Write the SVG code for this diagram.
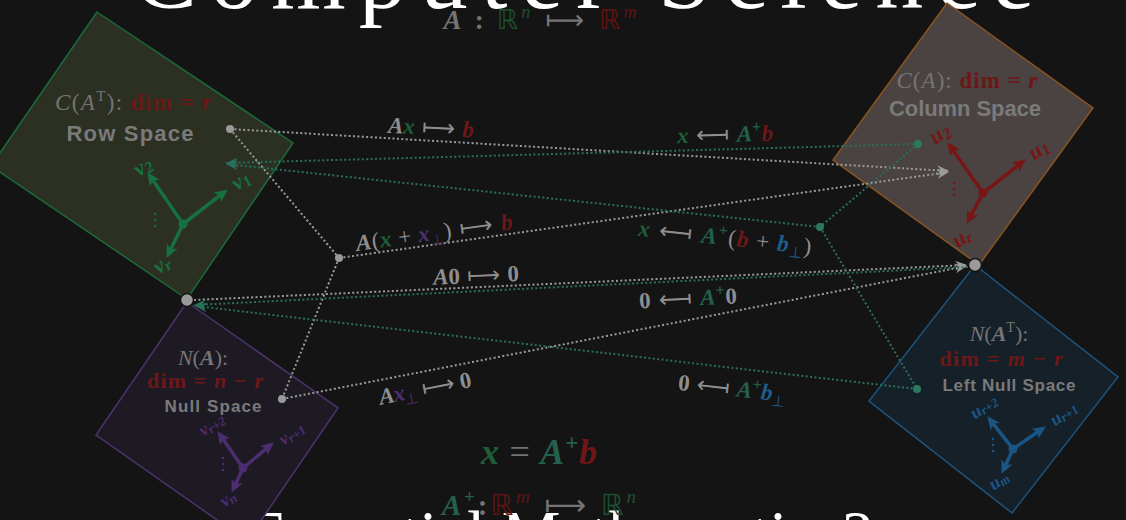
<svg xmlns="http://www.w3.org/2000/svg" width="1126" height="520" viewBox="0 0 1126 520">
<style>
.m{font-family:"Liberation Serif","DejaVu Serif",serif}
.sans{font-family:"Liberation Sans","DejaVu Sans",sans-serif;font-weight:bold;fill:#7a7a7a}
.it{font-style:italic}
.b{font-weight:bold}
.n{font-weight:normal}
.ar{font-family:"DejaVu Sans",sans-serif;font-weight:normal;font-style:normal}
.gy{fill:#747474}
.lg{fill:#8e8e8e}
.rd{fill:#6e1717}
.gx{fill:#1e5f3a}
.tl{fill:#25604d}
.bl{fill:#1f5d8a}
.pu{fill:#4c3070}
.gd{fill:none;stroke:#9b9b9b;stroke-width:2px;stroke-dasharray:2px 2.4px}
.td{fill:none;stroke:#2a6f5c;stroke-width:2px;stroke-dasharray:2px 2.4px}
.vg{stroke:#177040;stroke-width:3.5px;fill:none}
.vr{stroke:#7a1515;stroke-width:3.5px;fill:none}
.vp{stroke:#4c2d70;stroke-width:3.5px;fill:none}
.vb{stroke:#1b5584;stroke-width:3.5px;fill:none}
.vl{font-size:22px;font-weight:bold}
.vs{font-size:18px;font-weight:bold}
</style>
<defs>
<marker id="mg" markerUnits="userSpaceOnUse" markerWidth="13" markerHeight="10" refX="12" refY="5" orient="auto"><path d="M0,0 L12,5 L0,10 L4,5 Z" fill="#9b9b9b"/></marker>
<marker id="mt" markerUnits="userSpaceOnUse" markerWidth="13" markerHeight="10" refX="12" refY="5" orient="auto"><path d="M0,0 L12,5 L0,10 L4,5 Z" fill="#2a6f5c"/></marker>
<marker id="hg" markerUnits="userSpaceOnUse" markerWidth="15" markerHeight="12" refX="4" refY="6" orient="auto"><path d="M0,0 L13,6 L0,12 L3,6 Z" fill="#177040"/></marker>
<marker id="hr" markerUnits="userSpaceOnUse" markerWidth="15" markerHeight="12" refX="4" refY="6" orient="auto"><path d="M0,0 L13,6 L0,12 L3,6 Z" fill="#7a1515"/></marker>
<marker id="hp" markerUnits="userSpaceOnUse" markerWidth="15" markerHeight="12" refX="4" refY="6" orient="auto"><path d="M0,0 L13,6 L0,12 L3,6 Z" fill="#4c2d70"/></marker>
<marker id="hb" markerUnits="userSpaceOnUse" markerWidth="15" markerHeight="12" refX="4" refY="6" orient="auto"><path d="M0,0 L13,6 L0,12 L3,6 Z" fill="#1b5584"/></marker>
</defs>
<rect width="1126" height="520" fill="#141414"/>

<text id="title-top" class="m" x="133" y="8" font-size="96" letter-spacing="13" fill="#ffffff">Computer Science</text>
<text id="title-bottom" class="m" x="247" y="556" font-size="66" fill="#ffffff">Essential Mathematics?</text>

<text id="map-A" class="m b" x="540" y="29" font-size="27" text-anchor="middle" textLength="193"><tspan class="it gy">A</tspan><tspan class="gy"> : </tspan><tspan class="ar" fill="#1d4f31">ℝ</tspan><tspan class="it n" fill="#1d4f31" font-size="18" dy="-11">n</tspan><tspan class="ar gy" dy="11"> ⟼ </tspan><tspan class="ar" fill="#5e1414">ℝ</tspan><tspan class="it n" fill="#5e1414" font-size="18" dy="-11">m</tspan></text>

<g id="row-space">
<polygon points="97,12 293,143 187,299 -9,166" fill="#2b3022" stroke="#1c6b3c" stroke-width="1.5"/>
<text class="m" x="133" y="110" font-size="23" text-anchor="middle" textLength="156"><tspan class="it gy">C</tspan><tspan class="gy">(</tspan><tspan class="it gy">A</tspan><tspan class="gy" font-size="15" dy="-9">T</tspan><tspan class="gy" dy="9">):</tspan><tspan class="b rd"> dim = </tspan><tspan class="b it rd">r</tspan></text>
<text class="sans" x="130" y="141" font-size="22" text-anchor="middle" textLength="127">Row Space</text>
<line class="vg" x1="183" y1="224" x2="220.7" y2="194.9" marker-end="url(#hg)"/>
<line class="vg" x1="183" y1="224" x2="152.5" y2="179.6" marker-end="url(#hg)"/>
<line class="vg" x1="183" y1="224" x2="170.5" y2="249.8" marker-end="url(#hg)"/>
<circle cx="183" cy="224" r="4.5" fill="#177040"/>
<g fill="#177040"><circle cx="155" cy="214" r="1.3"/><circle cx="155" cy="220" r="1.3"/><circle cx="155" cy="226" r="1.3"/></g>
<g class="m it" fill="#177040">
<text transform="translate(143,167) rotate(-35)" class="vl" text-anchor="middle" y="6">v<tspan font-size="16" dy="3">2</tspan></text>
<text transform="translate(241,181) rotate(-35)" class="vl" text-anchor="middle" y="6">v<tspan font-size="16" dy="3">1</tspan></text>
<text transform="translate(162,265) rotate(-35)" class="vl" text-anchor="middle" y="6">v<tspan font-size="16" dy="3">r</tspan></text>
</g>
</g>

<g id="column-space">
<polygon points="947,3 1093,108 979,265 833,160" fill="#4a4341" stroke="#8b5422" stroke-width="1.5"/>
<text class="m" x="967" y="88" font-size="23" text-anchor="middle" textLength="141"><tspan class="it gy">C</tspan><tspan class="gy">(</tspan><tspan class="it gy">A</tspan><tspan class="gy">):</tspan><tspan class="b rd"> dim = </tspan><tspan class="b it rd">r</tspan></text>
<text class="sans" x="965" y="116" font-size="22" text-anchor="middle" textLength="152">Column Space</text>
<line class="vr" x1="983" y1="193" x2="1018.7" y2="164.9" marker-end="url(#hr)"/>
<line class="vr" x1="983" y1="193" x2="952.6" y2="149.6" marker-end="url(#hr)"/>
<line class="vr" x1="983" y1="193" x2="970.8" y2="215.9" marker-end="url(#hr)"/>
<circle cx="983" cy="193" r="4.5" fill="#7a1515"/>
<g fill="#7a1515"><circle cx="954" cy="183" r="1.3"/><circle cx="954" cy="189" r="1.3"/><circle cx="954" cy="195" r="1.3"/></g>
<g class="m it" fill="#7a1515">
<text transform="translate(940,134) rotate(-35)" class="vl" text-anchor="middle" y="6">u<tspan font-size="16" dy="3">2</tspan></text>
<text transform="translate(1039,150) rotate(-35)" class="vl" text-anchor="middle" y="6">u<tspan font-size="16" dy="3">1</tspan></text>
<text transform="translate(962,238) rotate(-35)" class="vl" text-anchor="middle" y="6">u<tspan font-size="16" dy="3">r</tspan></text>
</g>
</g>

<g id="null-space">
<polygon points="187,302 338,408 247,541 96,435" fill="#1e1a24" stroke="#4d336d" stroke-width="1.5"/>
<text class="m" x="203" y="365" font-size="22" text-anchor="middle"><tspan class="it gy">N</tspan><tspan class="gy">(</tspan><tspan class="it b gy">A</tspan><tspan class="gy">):</tspan></text>
<text class="m b rd" x="205" y="388" font-size="22" text-anchor="middle" textLength="116">dim  = <tspan class="it">n</tspan> − <tspan class="it">r</tspan></text>
<text class="sans" x="213" y="412" font-size="17" text-anchor="middle" textLength="97">Null Space</text>
<line class="vp" x1="243" y1="468" x2="266.9" y2="448.1" marker-end="url(#hp)"/>
<line class="vp" x1="243" y1="468" x2="222.6" y2="438.6" marker-end="url(#hp)"/>
<line class="vp" x1="243" y1="468" x2="235.3" y2="484.7" marker-end="url(#hp)"/>
<circle cx="243" cy="468" r="4.5" fill="#4c2d70"/>
<g fill="#4c2d70"><circle cx="223" cy="458" r="1.3"/><circle cx="223" cy="464" r="1.3"/><circle cx="223" cy="470" r="1.3"/></g>
<g class="m it" fill="#4c2d70">
<text transform="translate(212,425) rotate(-35)" class="vs" text-anchor="middle" y="5">v<tspan font-size="13" dy="2">r+2</tspan></text>
<text transform="translate(292,434) rotate(-35)" class="vs" text-anchor="middle" y="5">v<tspan font-size="13" dy="2">r+1</tspan></text>
<text transform="translate(228,499) rotate(-35)" class="vs" text-anchor="middle" y="5">v<tspan font-size="13" dy="2">n</tspan></text>
</g>
</g>

<g id="left-null-space">
<polygon points="975,265 1118,377 1012,513 869,401" fill="#162028" stroke="#1d5581" stroke-width="1.5"/>
<text class="m" x="999" y="341" font-size="22" text-anchor="middle"><tspan class="it gy">N</tspan><tspan class="gy">(</tspan><tspan class="it b gy">A</tspan><tspan class="gy" font-size="14" dy="-9">T</tspan><tspan class="gy" dy="9">):</tspan></text>
<text class="m b rd" x="1001" y="366" font-size="22" text-anchor="middle" textLength="123">dim  = <tspan class="it">m</tspan> − <tspan class="it">r</tspan></text>
<text class="sans" x="1009" y="391" font-size="17" text-anchor="middle" textLength="133">Left Null Space</text>
<line class="vb" x1="1013" y1="449" x2="1038.4" y2="431.5" marker-end="url(#hb)"/>
<line class="vb" x1="1013" y1="449" x2="992.9" y2="423.3" marker-end="url(#hb)"/>
<line class="vb" x1="1013" y1="449" x2="1005.3" y2="465.7" marker-end="url(#hb)"/>
<circle cx="1013" cy="449" r="4.5" fill="#1b5584"/>
<g fill="#1b5584"><circle cx="993" cy="439" r="1.3"/><circle cx="993" cy="445" r="1.3"/><circle cx="993" cy="451" r="1.3"/></g>
<g class="m it" fill="#1b5584">
<text transform="translate(984,407) rotate(-35)" class="vs" text-anchor="middle" y="5">u<tspan font-size="13" dy="2">r+2</tspan></text>
<text transform="translate(1064,414) rotate(-35)" class="vs" text-anchor="middle" y="5">u<tspan font-size="13" dy="2">r+1</tspan></text>
<text transform="translate(999,481) rotate(-35)" class="vs" text-anchor="middle" y="5">u<tspan font-size="13" dy="2">m</tspan></text>
</g>
</g>

<g id="connectors">
<line class="gd" x1="230" y1="129" x2="949" y2="171" marker-end="url(#mg)"/>
<line class="gd" x1="339" y1="258" x2="949" y2="172" marker-end="url(#mg)"/>
<line class="gd" x1="230" y1="129" x2="339" y2="258"/>
<line class="gd" x1="339" y1="258" x2="282" y2="399"/>
<line class="gd" x1="194" y1="300" x2="967" y2="265" marker-end="url(#mg)"/>
<line class="gd" x1="282" y1="399" x2="967" y2="266" marker-end="url(#mg)"/>
<line class="td" x1="918" y1="144" x2="226" y2="163" marker-end="url(#mt)"/>
<line class="td" x1="820" y1="227" x2="226" y2="164" marker-end="url(#mt)"/>
<line class="td" x1="918" y1="144" x2="820" y2="227"/>
<line class="td" x1="820" y1="227" x2="917" y2="389"/>
<line class="td" x1="968" y1="267" x2="194" y2="305" marker-end="url(#mt)"/>
<line class="td" x1="917" y1="389" x2="195" y2="306" marker-end="url(#mt)"/>
</g>

<g id="points">
<circle cx="230" cy="129" r="4" fill="#9a9a9a"/>
<circle cx="339" cy="258" r="4" fill="#9a9a9a"/>
<circle cx="282" cy="399" r="4" fill="#9a9a9a"/>
<circle cx="918" cy="144" r="4" fill="#2b7a5e"/>
<circle cx="820" cy="227" r="4" fill="#2b7a5e"/>
<circle cx="917" cy="389" r="4" fill="#2b7a5e"/>
<circle cx="187" cy="300" r="6.5" fill="#9a9a9a" stroke="#141414" stroke-width="1.5"/>
<circle cx="975" cy="265" r="6.5" fill="#9a9a9a" stroke="#141414" stroke-width="1.5"/>
</g>

<g id="connector-labels" class="m b" font-size="23" text-anchor="middle">
<text transform="translate(431,127) rotate(3)" y="8" textLength="86"><tspan class="it lg">A</tspan><tspan class="it gx">x</tspan><tspan class="ar lg"> ⟼ </tspan><tspan class="it rd">b</tspan></text>
<text transform="translate(725,134) rotate(-1.5)" y="8" textLength="96"><tspan class="it gx">x</tspan><tspan class="ar lg"> ⟻ </tspan><tspan class="it tl">A</tspan><tspan class="tl" font-size="16" dy="-9">+</tspan><tspan class="it rd" dy="9">b</tspan></text>
<text transform="translate(434,232) rotate(-8)" y="8" textLength="158"><tspan class="it lg">A</tspan><tspan class="lg n">(</tspan><tspan class="it gx">x</tspan><tspan class="lg n"> + </tspan><tspan class="it pu">x</tspan><tspan class="ar pu" font-size="15" dy="5">⊥</tspan><tspan class="lg n" dy="-5">)</tspan><tspan class="ar lg"> ⟼ </tspan><tspan class="it rd">b</tspan></text>
<text transform="translate(725,237) rotate(6)" y="8" textLength="174"><tspan class="it gx">x</tspan><tspan class="ar lg"> ⟻ </tspan><tspan class="it tl">A</tspan><tspan class="tl" font-size="16" dy="-9">+</tspan><tspan class="lg n" dy="9">(</tspan><tspan class="it rd">b</tspan><tspan class="lg n"> + </tspan><tspan class="it bl">b</tspan><tspan class="ar bl" font-size="15" dy="5">⊥</tspan><tspan class="lg n" dy="-5">)</tspan></text>
<text transform="translate(476,275) rotate(-2.5)" y="8" textLength="86"><tspan class="it lg">A</tspan><tspan class="lg">0</tspan><tspan class="ar lg"> ⟼ </tspan><tspan class="lg">0</tspan></text>
<text transform="translate(688,298) rotate(-3)" y="8" textLength="98"><tspan class="lg">0</tspan><tspan class="ar lg"> ⟻ </tspan><tspan class="it tl">A</tspan><tspan class="tl" font-size="16" dy="-9">+</tspan><tspan class="lg" dy="9">0</tspan></text>
<text transform="translate(425,388) rotate(-11)" y="8" textLength="94"><tspan class="it lg">A</tspan><tspan class="it pu">x</tspan><tspan class="ar pu" font-size="15" dy="5">⊥</tspan><tspan class="ar lg" dy="-5"> ⟼ </tspan><tspan class="lg">0</tspan></text>
<text transform="translate(732,388) rotate(6.5)" y="8" textLength="108"><tspan class="lg">0</tspan><tspan class="ar lg"> ⟻ </tspan><tspan class="it tl">A</tspan><tspan class="tl" font-size="16" dy="-9">+</tspan><tspan class="it bl" dy="9">b</tspan><tspan class="ar bl" font-size="15" dy="5">⊥</tspan></text>
</g>

<text id="pinv-eq" class="m b" x="539" y="464" font-size="36" text-anchor="middle" textLength="116"><tspan class="it gx">x</tspan><tspan class="gy n"> = </tspan><tspan class="it tl">A</tspan><tspan class="tl" font-size="23" dy="-14">+</tspan><tspan class="it rd" dy="14">b</tspan></text>
<text id="map-Apinv" class="m b" x="539" y="515" font-size="29" text-anchor="middle" textLength="194"><tspan class="it tl">A</tspan><tspan class="tl" font-size="19" dy="-12">+</tspan><tspan class="gy" dy="12">:</tspan><tspan class="ar" fill="#5e1414">ℝ</tspan><tspan class="it n" fill="#5e1414" font-size="19" dy="-12">m</tspan><tspan class="ar gy" dy="12"> ⟼ </tspan><tspan class="ar" fill="#1d4f31">ℝ</tspan><tspan class="it n" fill="#1d4f31" font-size="19" dy="-12">n</tspan></text>
</svg>
